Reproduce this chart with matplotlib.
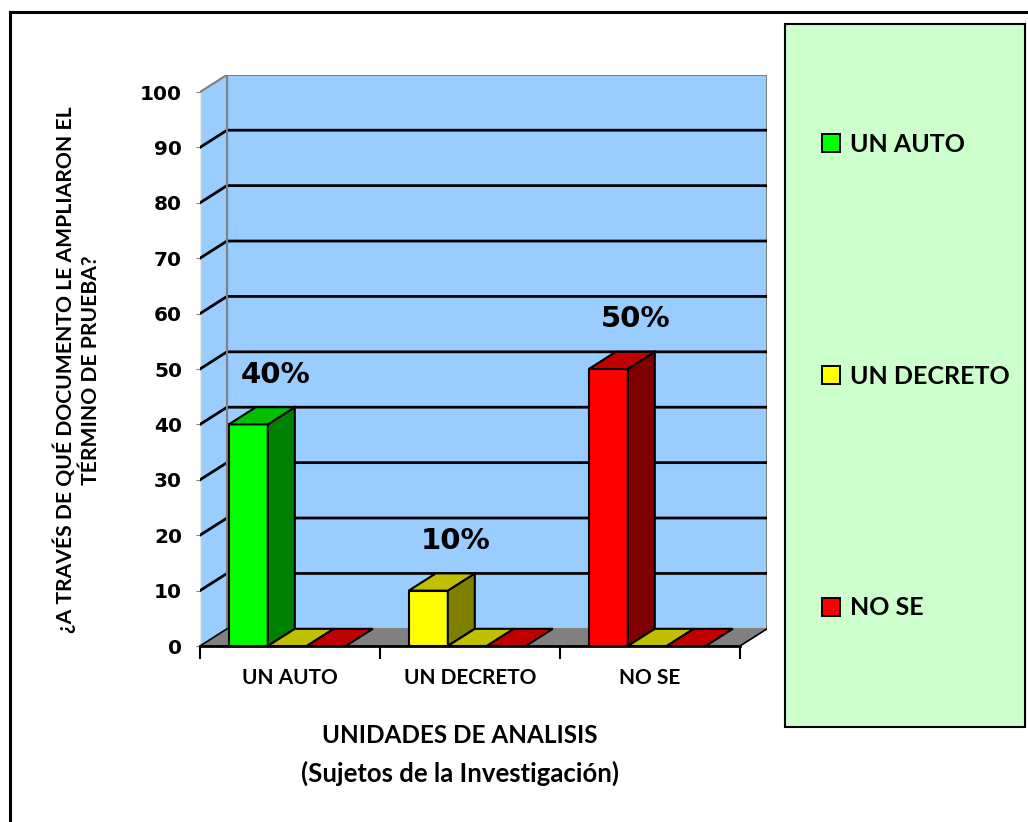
import matplotlib
matplotlib.use("Agg")
import matplotlib.pyplot as plt
from matplotlib.patches import Polygon, Rectangle
from matplotlib.lines import Line2D

# ---------------- data ----------------
categories = ["UN AUTO", "UN DECRETO", "NO SE"]
legend_names = ["UN AUTO", "UN DECRETO", "NO SE"]
main_values = [40, 10, 50]          # first bar of each category (varied colours)
second_values = [0, 0, 0]           # yellow series
third_values = [0, 0, 0]            # red series
value_labels = ["40%", "10%", "50%"]
y_ticks = [0, 10, 20, 30, 40, 50, 60, 70, 80, 90, 100]

# ---------------- styles ----------------
point_colors = [  # (front, side, top)
    ("#00FF00", "#008000", "#00C000"),
    ("#FFFF00", "#808000", "#C0C000"),
    ("#FF0000", "#800000", "#C00000"),
]
slot_colors = [None, point_colors[1], point_colors[2]]
WALL = "#99CCFF"
FLOOR = "#808080"
LEGEND_BG = "#CCFFCC"
TXT = ["Lato", "DejaVu Sans"]
NUM = ["DejaVu Sans"]

W, H = 1028, 822
fig = plt.figure(figsize=(W / 100, H / 100), dpi=100)

# 3D depth offsets in data units
DX, DY = 0.15, 3.1
x0px, y0px, front_w, front_h = 200, 646, 540, 554
ax = fig.add_axes([x0px / W, 1 - y0px / H,
                   (front_w + DX * front_w / 3) / W,
                   (front_h + DY * front_h / 100) / H])
ax.set_xlim(0, 3 + DX)
ax.set_ylim(0, 100 + DY)
ax.patch.set_visible(False)
for s in ["top", "right", "left"]:
    ax.spines[s].set_visible(False)
ax.spines["bottom"].set_bounds(0, 3)
ax.spines["bottom"].set_linewidth(2)
ax.spines["bottom"].set_zorder(20)

ymax = y_ticks[-1]
# back wall
ax.add_patch(Rectangle((DX, DY), 3, ymax, fc=WALL, ec="#808080", lw=1.5, zorder=1))
# left wall
ax.add_patch(Polygon([(0, 0), (DX, DY), (DX, ymax + DY), (0, ymax)],
                     closed=True, fc=WALL, ec="none", zorder=1))
ax.plot([0, 0], [0, ymax], color="#E8E8E8", lw=1, zorder=2)
# gridlines
for v in y_ticks[1:-1]:
    ax.plot([0, DX, 3 + DX], [v, v + DY, v + DY], color="black", lw=2, zorder=2)
ax.plot([0, DX, 3 + DX], [ymax, ymax + DY, ymax + DY], color="#808080", lw=1.5, zorder=2)
ax.plot([DX, DX], [DY, ymax + DY], color="#808080", lw=1.5, zorder=2)

# floor
ax.add_patch(Polygon([(0, 0), (3, 0), (3 + DX, DY), (DX, DY)],
                     closed=True, fc=FLOOR, ec="none", zorder=3))
ax.plot([0, DX], [0, DY], color="black", lw=1.2, zorder=4)
ax.plot([3, 3 + DX], [0, DY], color="black", lw=1.2, zorder=4)

# bars
BW = 0.2167
OFF = 0.16
z = 5
for i, cat in enumerate(categories):
    vals = [main_values[i], second_values[i], third_values[i]]
    for s, v in enumerate(vals):
        front, side, top = point_colors[i] if s == 0 else slot_colors[s]
        xl = i + OFF + s * BW
        xr = xl + BW
        if v > 0:
            ax.add_patch(Rectangle((xl, 0), BW, v, fc=front, ec="black", lw=1.5, zorder=z))
            ax.add_patch(Polygon([(xr, 0), (xr + DX, DY), (xr + DX, v + DY), (xr, v)],
                                 closed=True, fc=side, ec="black", lw=1.5, zorder=z))
        ax.add_patch(Polygon([(xl, v), (xr, v), (xr + DX, v + DY), (xl + DX, v + DY)],
                             closed=True, fc=top, ec="black", lw=1.5, zorder=z))
        z += 1
        if s == 0:
            ax.text(xl + BW / 2 + DX, v + 9.0, value_labels[i], ha="center", va="center",
                    fontsize=21, fontweight="bold", family=NUM, zorder=30)

# axes ticks
ax.set_yticks(y_ticks)
ax.set_yticklabels([str(t) for t in y_ticks], fontsize=14.5, fontweight="bold", family=NUM)
ax.tick_params(axis="y", length=3, color="#808080", pad=10)
ax.set_xticks([0, 1, 2, 3])
ax.set_xticklabels([])
ax.set_xticks([0.5, 1.5, 2.5], minor=True)
ax.set_xticklabels(categories, minor=True, fontsize=15, fontweight="bold", family=TXT)
ax.tick_params(axis="x", which="major", length=9, width=1.5, color="black", direction="out")
ax.tick_params(axis="x", which="minor", length=0, pad=16)

# axis titles
fig.text(460 / W, 1 - 735 / H, "UNIDADES DE ANALISIS", ha="center", va="center",
         fontsize=17.5, fontweight="bold", family=TXT)
fig.text(460 / W, 1 - 773 / H, "(Sujetos de la Investigación)", ha="center", va="center",
         fontsize=18.5, fontweight="bold", family=TXT)
fig.text(77 / W, 1 - 370 / H, "¿A TRAVÉS DE QUÉ DOCUMENTO LE AMPLIARON EL\nTÉRMINO DE PRUEBA?",
         rotation=90, ha="center", va="center", multialignment="center",
         fontsize=15.2, fontweight="bold", family=TXT, linespacing=1.3)

# legend box
fig.add_artist(Rectangle((785 / W, 1 - 727 / H), 240 / W, 703 / H, transform=fig.transFigure,
                         fc=LEGEND_BG, ec="black", lw=1.5, zorder=0))
handles = [Line2D([], [], marker="s", ms=13, mfc=c[0], mec="black", mew=1.4, ls="none")
           for c in point_colors]
fig.legend(handles, legend_names, loc="center left", bbox_to_anchor=(806 / W, 1 - 376 / H),
           frameon=False, prop={"family": TXT, "weight": "bold", "size": 18},
           labelspacing=8.35, handletextpad=0.25, handlelength=1.0, borderpad=0)

# outer frame
fig.add_artist(Line2D([10 / W, 10 / W], [0, 1 - 12 / H], transform=fig.transFigure,
                      color="black", lw=2.2))
fig.add_artist(Line2D([10 / W, 1], [1 - 12 / H, 1 - 12 / H], transform=fig.transFigure,
                      color="black", lw=2.2))

fig.savefig("out.png", dpi=100)
